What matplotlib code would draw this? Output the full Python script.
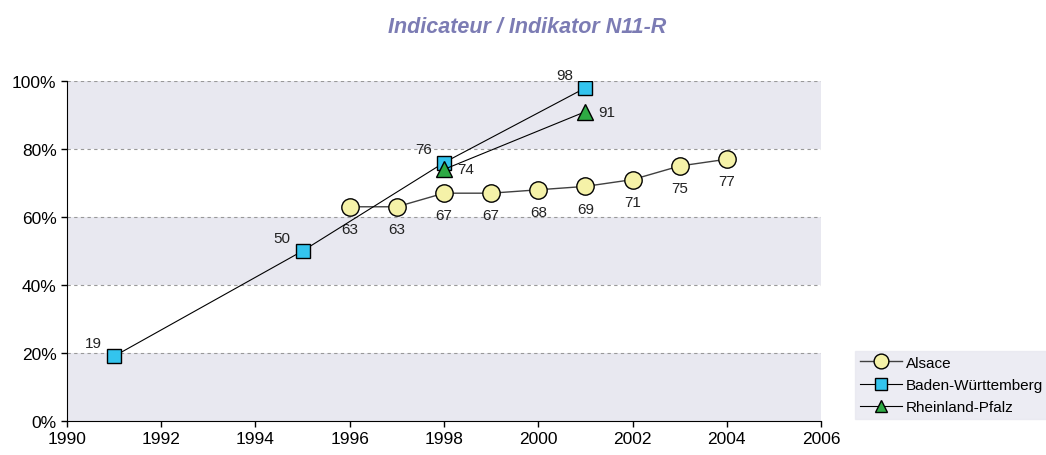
import matplotlib.pyplot as plt
from matplotlib.ticker import FuncFormatter

plt.rcParams['font.family'] = ['Liberation Sans', 'DejaVu Sans']

years_alsace = [1996, 1997, 1998, 1999, 2000, 2001, 2002, 2003, 2004]
alsace = [63, 63, 67, 67, 68, 69, 71, 75, 77]
years_bw = [1991, 1995, 1998, 2001]
bw = [19, 50, 76, 98]
years_rp = [1998, 2001]
rp = [74, 91]

band = '#e8e8f0'

fig = plt.figure(figsize=(10.46, 4.56), dpi=100)
ax = fig.add_axes([0.064, 0.075, 0.721, 0.745])

# bandes alternees
for lo in (0, 40, 80):
    ax.axhspan(lo / 100, (lo + 20) / 100, color=band, zorder=0, lw=0)
for y in (0.2, 0.4, 0.6, 0.8, 1.0):
    ax.axhline(y, color='#999999', lw=0.8, ls=(0, (3, 3)), zorder=1)

ax.plot(years_alsace, [v / 100 for v in alsace], color='#404040', lw=1,
        marker='o', ms=12.5, mfc='#f5f2a8', mec='black', mew=1, label='Alsace', zorder=3)
ax.plot(years_bw, [v / 100 for v in bw], color='black', lw=0.8,
        marker='s', ms=10.5, mfc='#33c4ee', mec='black', mew=1, label='Baden-Württemberg', zorder=4)
ax.plot(years_rp, [v / 100 for v in rp], color='black', lw=0.8,
        marker='^', ms=11, mfc='#2eaa44', mec='black', mew=1, label='Rheinland-Pfalz', zorder=5)

for x, v in zip(years_alsace, alsace):
    ax.annotate(str(v), (x, v / 100), xytext=(0, -16), textcoords='offset points',
                ha='center', va='center', fontsize=11, color='#222222')
for x, v in zip(years_bw, bw):
    ax.annotate(str(v), (x, v / 100), xytext=(-15, 9.5), textcoords='offset points',
                ha='center', va='center', fontsize=11, color='#222222')
for x, v in zip(years_rp, rp):
    ax.annotate(str(v), (x, v / 100), xytext=(15.5, 0), textcoords='offset points',
                ha='center', va='center', fontsize=11, color='#222222')

ax.set_xlim(1990, 2006)
ax.set_ylim(0, 1.0)
ax.set_xticks(range(1990, 2007, 2))
ax.set_yticks([0, 0.2, 0.4, 0.6, 0.8, 1.0])
ax.yaxis.set_major_formatter(FuncFormatter(lambda v, p: f'{v * 100:.0f}%'))
ax.tick_params(axis='both', labelsize=12.5, direction='out', length=4, width=1)
for s in ('top', 'right'):
    ax.spines[s].set_visible(False)
ax.set_facecolor('white')

fig.text(0.504, 0.94, 'Indicateur / Indikator N11-R', ha='center', va='center',
         fontsize=15.5, fontstyle='italic', fontweight='bold', color='#7c7cb4')

leg = fig.legend(loc='upper left', bbox_to_anchor=(0.8174, 0.228), frameon=True,
                 fontsize=11, handlelength=2.8, borderpad=0.3, labelspacing=0.55,
                 handletextpad=0.25, markerscale=0.85, borderaxespad=0)
leg.get_frame().set_facecolor(band)
leg.get_frame().set_edgecolor(band)
leg.get_frame().set_boxstyle('square', pad=0)

fig.savefig('out.png', dpi=100)
